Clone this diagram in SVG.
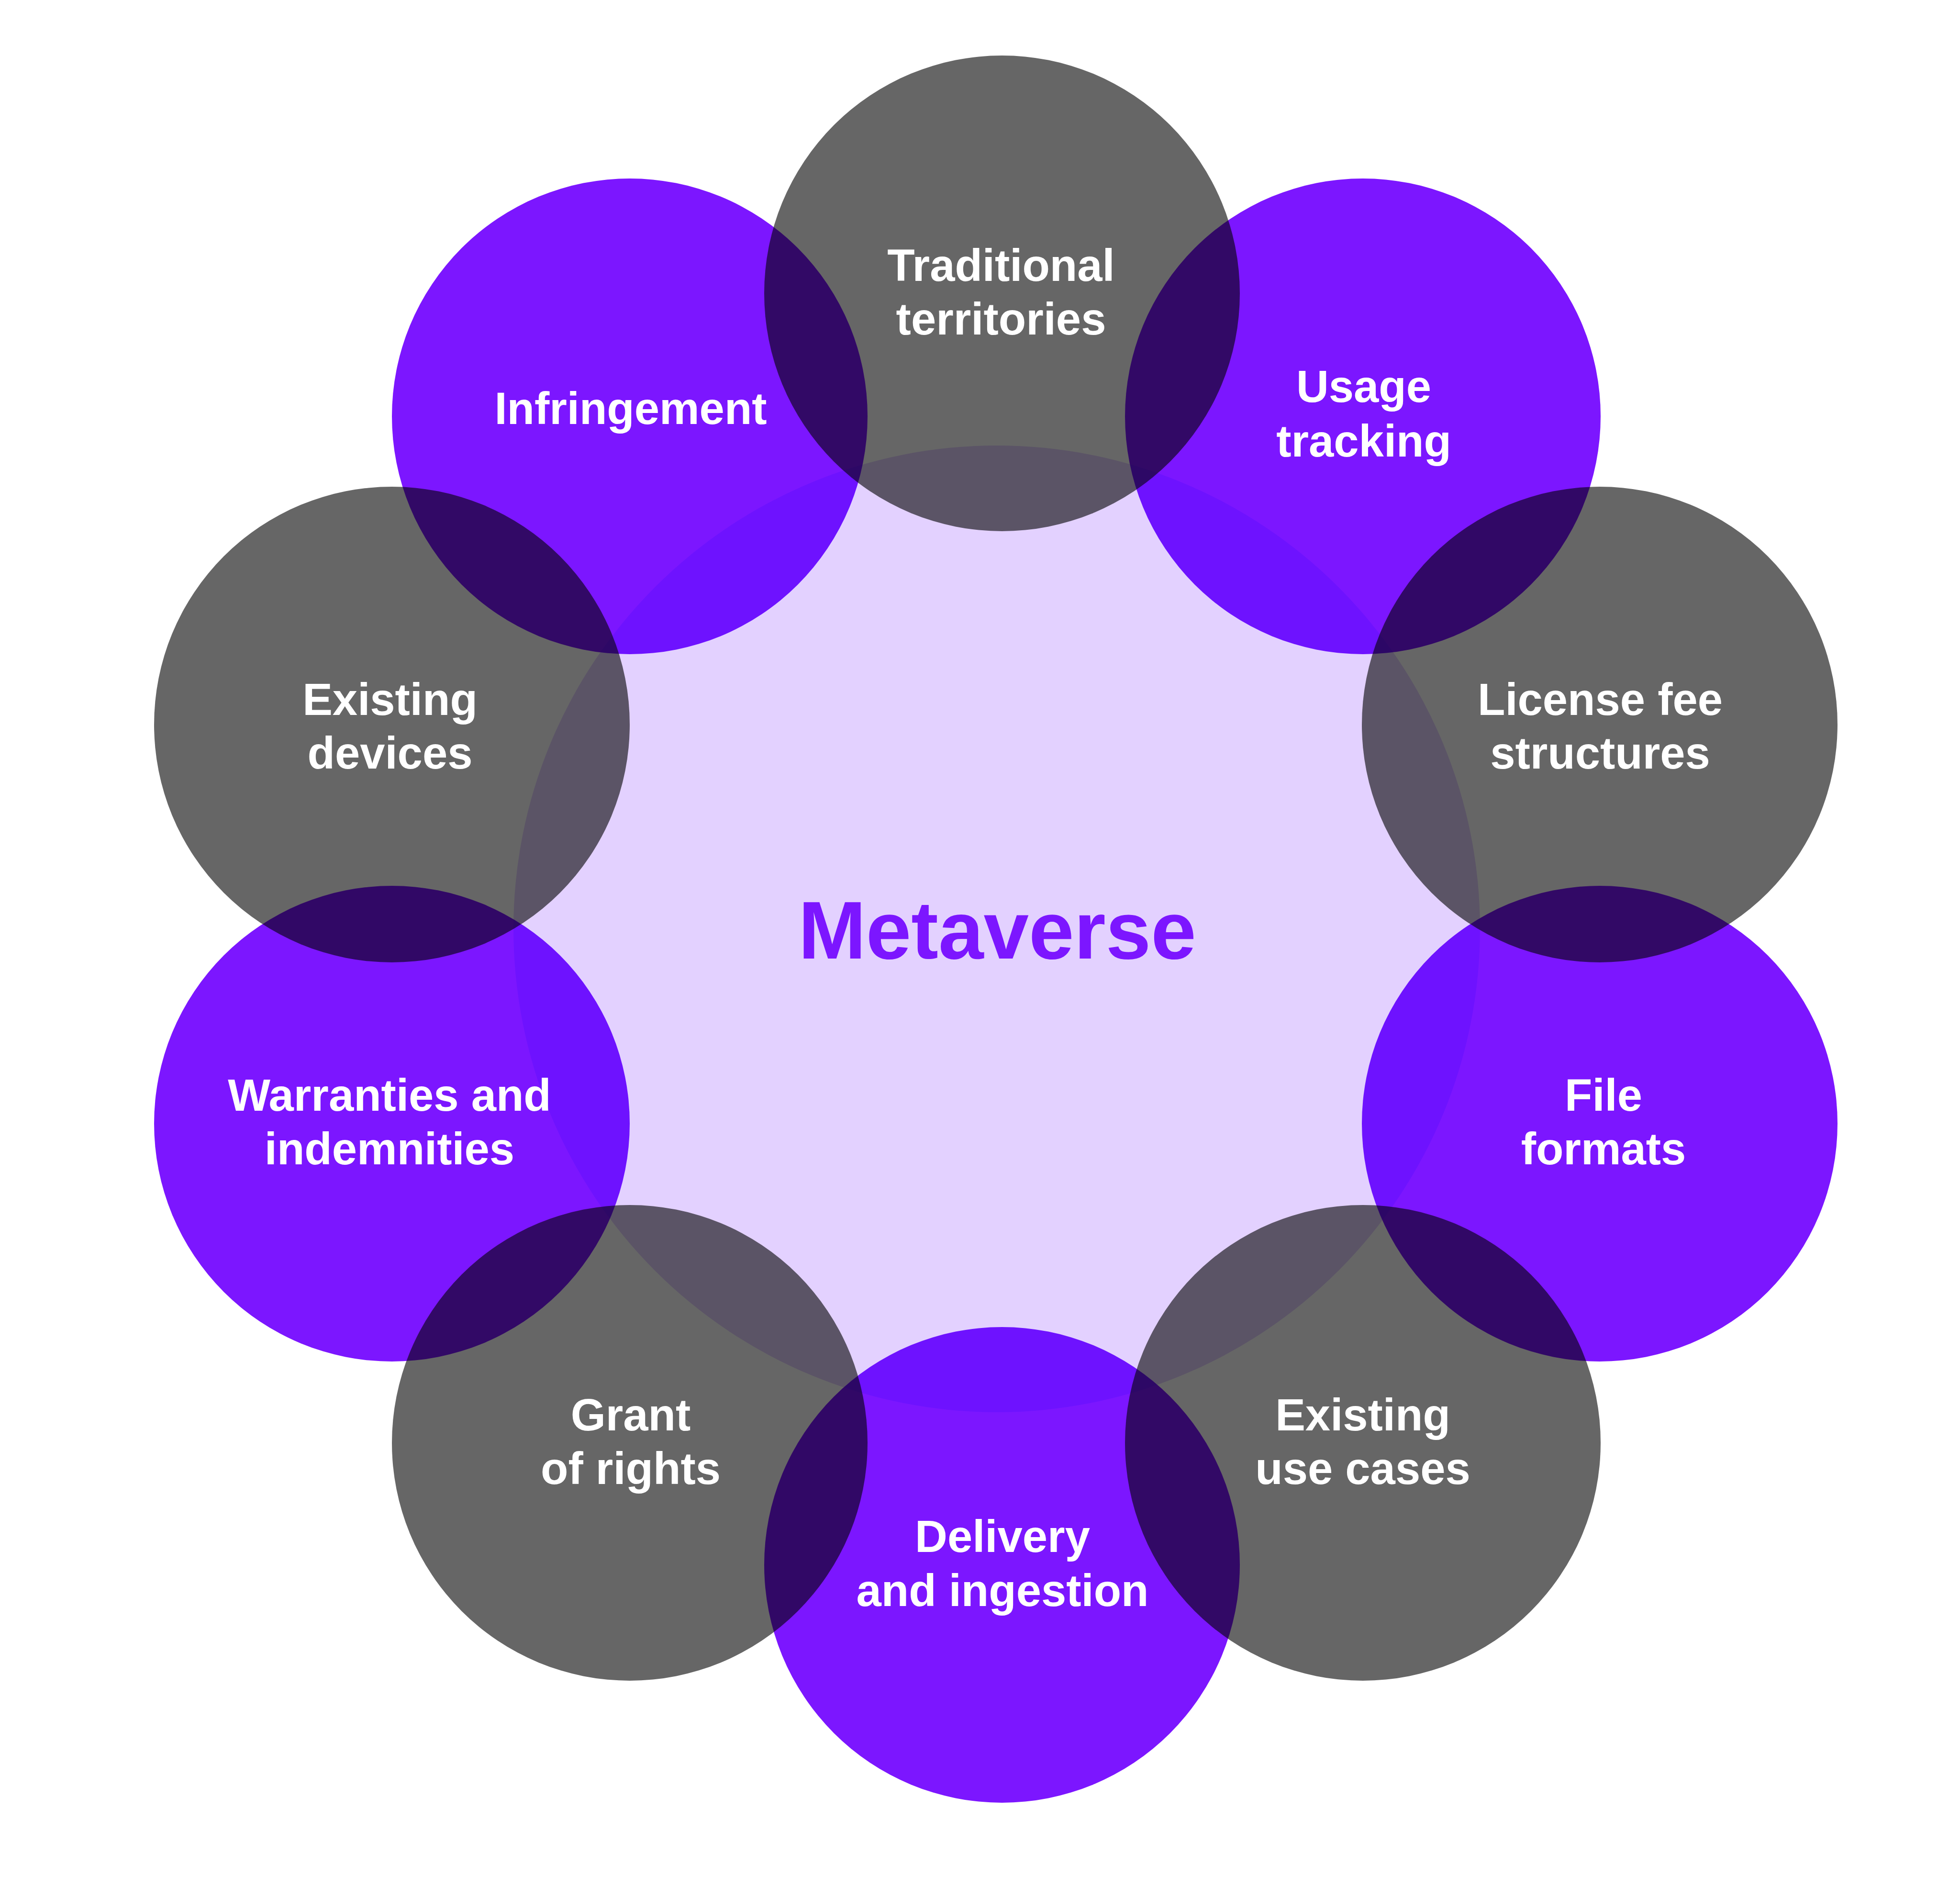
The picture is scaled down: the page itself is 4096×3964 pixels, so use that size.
<svg xmlns="http://www.w3.org/2000/svg" width="4096" height="3964" viewBox="0 0 4096 3964">
<style>
.hub{fill:#E3D1FF}
.gray{fill:#000000;fill-opacity:0.6}
.purple{fill:#7C16FF;mix-blend-mode:multiply}
.lbl{font-family:"Liberation Sans",Arial,Helvetica,sans-serif;font-weight:bold;font-size:94px;fill:#FFFFFF;text-anchor:middle}
.title{font-family:"Liberation Sans",Arial,Helvetica,sans-serif;font-weight:bold;font-size:170px;fill:#7C16FF;text-anchor:middle}
</style>
<rect width="4096" height="3964" fill="#FFFFFF"/>
<g id="connectors"/>
<g id="metaverse">
<circle class="hub" cx="2083" cy="1941" r="1010"/>
<text class="title" x="2084" y="2003">Metaverse</text>
</g>
<g id="traditional-territories">
<circle class="gray" cx="2094" cy="613" r="497"/>
<text class="lbl" x="2092" y="587">Traditional</text>
<text class="lbl" x="2092" y="699">territories</text>
</g>
<g id="usage-tracking">
<circle class="purple" cx="2848" cy="870" r="497"/>
<text class="lbl" x="2850" y="840">Usage</text>
<text class="lbl" x="2850" y="954">tracking</text>
</g>
<g id="license-fee-structures">
<circle class="gray" cx="3343" cy="1514" r="497"/>
<text class="lbl" x="3344" y="1494">License fee</text>
<text class="lbl" x="3344" y="1606">structures</text>
</g>
<g id="file-formats">
<circle class="purple" cx="3343" cy="2348" r="497"/>
<text class="lbl" x="3351" y="2321">File</text>
<text class="lbl" x="3351" y="2433">formats</text>
</g>
<g id="existing-use-cases">
<circle class="gray" cx="2848" cy="3015" r="497"/>
<text class="lbl" x="2848" y="2989">Existing</text>
<text class="lbl" x="2848" y="3101">use cases</text>
</g>
<g id="delivery-and-ingestion">
<circle class="purple" cx="2094" cy="3270" r="497"/>
<text class="lbl" x="2095" y="3243">Delivery</text>
<text class="lbl" x="2095" y="3356">and ingestion</text>
</g>
<g id="grant-of-rights">
<circle class="gray" cx="1316" cy="3015" r="497"/>
<text class="lbl" x="1318" y="2989">Grant</text>
<text class="lbl" x="1318" y="3101">of rights</text>
</g>
<g id="warranties-and-indemnities">
<circle class="purple" cx="819" cy="2348" r="497"/>
<text class="lbl" x="814" y="2321">Warranties and</text>
<text class="lbl" x="814" y="2433">indemnities</text>
</g>
<g id="existing-devices">
<circle class="gray" cx="819" cy="1514" r="497"/>
<text class="lbl" x="815" y="1494">Existing</text>
<text class="lbl" x="815" y="1606">devices</text>
</g>
<g id="infringement">
<circle class="purple" cx="1316" cy="870" r="497"/>
<text class="lbl" x="1318" y="886">Infringement</text>
</g>
</svg>
